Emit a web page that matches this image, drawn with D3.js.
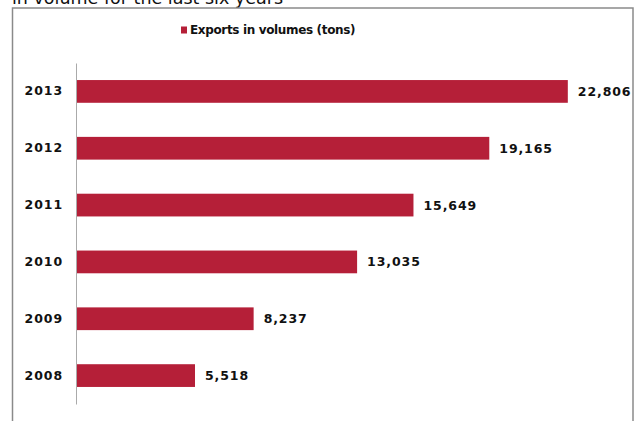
<!DOCTYPE html>
<html>
<head>
<meta charset="utf-8">
<script src="https://cdn.jsdelivr.net/npm/d3@7"></script>
<style>
  body { margin: 0; background: #fff; }
  svg { display: block; font-family: "DejaVu Sans", Verdana, sans-serif; }
</style>
</head>
<body>
<svg width="637" height="421"></svg>
<script>
// data
var years = ["2013", "2012", "2011", "2010", "2009", "2008"];
var volumes = [22806, 19165, 15649, 13035, 8237, 5518];
var seriesName = "Exports in volumes (tons)";
var titleText = "in volume for the last six years";

var barColor = "#b51f38";

var svg = d3.select("svg");

// title, cut by the top of the picture (as in the original)
svg.append("text")
    .attr("x", 12)
    .attr("y", 3.5)
    .attr("font-size", "17.5px")
    .attr("fill", "#111")
    .text(titleText);

// chart frame
svg.append("rect")
    .attr("x", 12.5)
    .attr("y", 8)
    .attr("width", 620.5)
    .attr("height", 430)
    .attr("fill", "none")
    .attr("stroke", "#8a8a8a")
    .attr("stroke-width", 1.5);

// legend
var legend = svg.append("g").attr("transform", "translate(181,30)");
legend.append("rect")
    .attr("x", 0).attr("y", -3.5)
    .attr("width", 6).attr("height", 7)
    .attr("fill", barColor);
legend.append("text")
    .attr("x", 9)
    .attr("dy", "0.36em")
    .attr("font-size", "12px")
    .attr("font-weight", "bold")
    .attr("letter-spacing", "-0.35px")
    .attr("fill", "#111")
    .text(seriesName);

// scales
var x = d3.scaleLinear()
    .domain([0, 25000])
    .range([76, 76 + 25000 * 0.021565]);

var y = d3.scaleBand()
    .domain(years)
    .range([63, 404])
    .paddingInner(0.6)
    .paddingOuter(0.3);

// bars
svg.append("g")
    .selectAll("rect")
    .data(years)
    .enter().append("rect")
    .attr("x", x(0))
    .attr("y", function (d) { return y(d); })
    .attr("width", function (d, i) { return x(volumes[i]) - x(0); })
    .attr("height", y.bandwidth())
    .attr("fill", barColor);

// value labels
svg.append("g")
    .selectAll("text")
    .data(years)
    .enter().append("text")
    .attr("x", function (d, i) { return x(volumes[i]) + 10; })
    .attr("y", function (d) { return y(d) + y.bandwidth() / 2; })
    .attr("dy", "0.36em")
    .attr("font-size", "12.5px")
    .attr("font-weight", "bold")
    .attr("letter-spacing", "0.9px")
    .attr("fill", "#111")
    .text(function (d, i) { return d3.format(",")(volumes[i]); });

// category axis
var yAxis = svg.append("g")
    .attr("transform", "translate(76,0)")
    .call(d3.axisLeft(y).tickSize(0).tickPadding(13));
yAxis.select(".domain")
    .attr("stroke", "#aaa")
    .attr("stroke-width", 1);
yAxis.selectAll("text")
    .attr("font-family", "DejaVu Sans, Verdana, sans-serif")
    .attr("font-size", "12.5px")
    .attr("font-weight", "bold")
    .attr("letter-spacing", "0.9px")
    .attr("fill", "#111");
</script>
</body>
</html>
